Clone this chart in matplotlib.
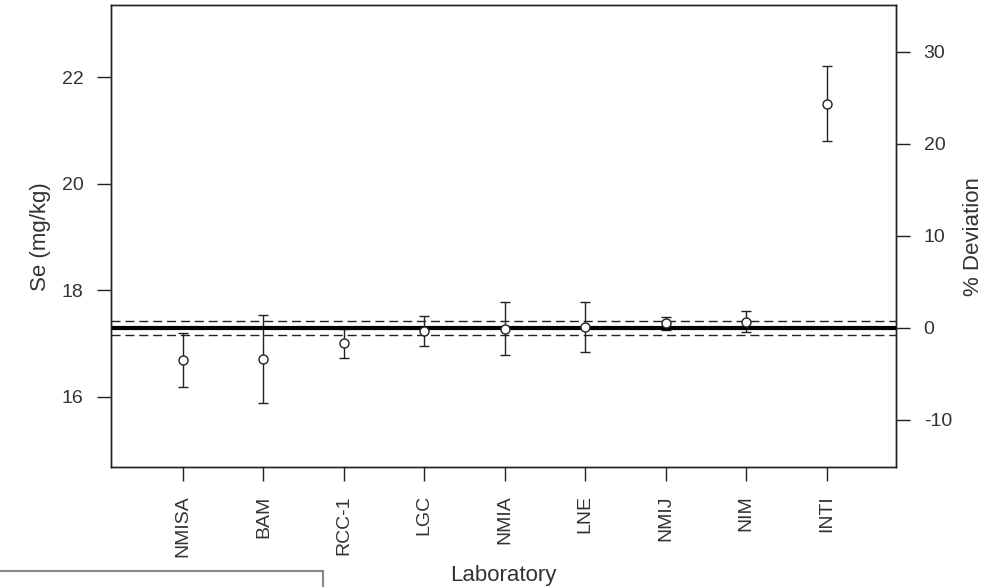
import numpy as np
import matplotlib
matplotlib.use("Agg")
import matplotlib.pyplot as plt
from matplotlib.patches import Rectangle

plt.rcParams['font.family'] = ['Liberation Sans', 'DejaVu Sans']
plt.rcParams['axes.unicode_minus'] = False

# data
labs = ['NMISA', 'BAM', 'RCC-1', 'LGC', 'NMIA', 'LNE', 'NMIJ', 'NIM', 'INTI']
se_val = [16.685, 16.71, 17.00, 17.23, 17.28, 17.31, 17.375, 17.405, 21.505]
se_unc = [0.51, 0.83, 0.28, 0.28, 0.50, 0.47, 0.125, 0.20, 0.71]
ref_val = 17.292
ref_unc = 0.135

ylo, yhi = 14.67, 23.35
txt = '#333333'
ink = '#222222'

fig = plt.figure(figsize=(9.97, 5.87), dpi=100)
ax = fig.add_axes([0.1116, 0.2036, 0.787, 0.7874])
x = np.arange(1, len(labs) + 1)

ax.errorbar(x, se_val, yerr=se_unc, fmt='none', ecolor=ink, elinewidth=1,
            capsize=3.6, capthick=1, zorder=2)
ax.axhline(ref_val, color='black', lw=3, zorder=3)
ax.axhline(ref_val + ref_unc, color=ink, lw=1, ls=(0, (6.5, 3.5)), zorder=3)
ax.axhline(ref_val - ref_unc, color=ink, lw=1, ls=(0, (6.5, 3.5)), zorder=3)
ax.plot(x, se_val, 'o', ms=6.5, mfc='white', mec=ink, mew=1, zorder=4)

ax.set_xlim(0.109, 9.86)
ax.set_ylim(ylo, yhi)
ax.set_yticks([16, 18, 20, 22])
ax.set_xticks(x)
ax.set_xticklabels(labs, rotation=90)
ax.set_ylabel('Se (mg/kg)', fontsize=16, color=txt, labelpad=8)
ax.set_xlabel('Laboratory', fontsize=16, color=txt, labelpad=6)

# right axis: percent deviation from the reference value
ax2 = ax.twinx()
ax2.set_ylim((ylo / ref_val - 1) * 100, (yhi / ref_val - 1) * 100)
ax2.set_yticks([-10, 0, 10, 20, 30])
ax2.set_ylabel('% Deviation', fontsize=16, color=txt, labelpad=8)

for a in (ax, ax2):
    a.tick_params(length=10, width=1, color=ink, labelcolor=txt, labelsize=14, pad=10)
    for s in a.spines.values():
        s.set_color(ink)
        s.set_linewidth(1)

# grey frame at the lower left corner
fig.patches.append(Rectangle((-0.01, -0.05), 0.334, 0.077, transform=fig.transFigure,
                             fill=False, edgecolor='#888888', lw=1.5))

fig.savefig('out.png', dpi=100)
